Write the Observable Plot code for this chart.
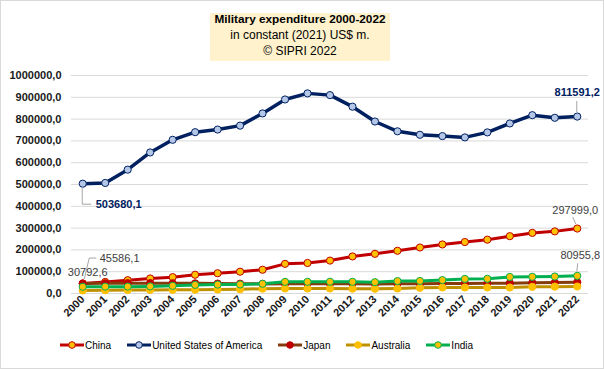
<!DOCTYPE html>
<html>
<head>
<meta charset="utf-8">
<script src="https://cdn.jsdelivr.net/npm/d3@7"></script>
<script src="https://cdn.jsdelivr.net/npm/@observablehq/plot@0.6"></script>
<style>
  html, body { margin: 0; padding: 0; background: #fff; }
  #chart { position: relative; width: 604px; height: 369px; box-sizing: border-box; border: 1px solid #d9d9d9; background: #fff; font-family: "Liberation Sans", Arial, sans-serif; overflow: hidden; }
  #plot { position: absolute; left: 0; top: 0; }
  #title { position: absolute; left: 209px; top: 12px; width: 180px; height: 48px; background: #fff2cc; text-align: center; color: #000; font-size: 12px; }
  #title .inner { position: relative; top: -2px; }
  #title div.l { line-height: 16px; }
  #title .b { font-weight: bold; font-size: 11.8px; }
  #legend { position: absolute; left: 59px; top: 337px; height: 14px; display: flex; align-items: center; font-size: 10px; color: #000; }
  #legend .item { display: flex; align-items: center; margin-right: 16px; }
  #legend svg { margin-right: 1px; }
</style>
</head>
<body>
<div id="chart">
  <div id="plot"></div>
  <div id="title"><div class="inner">
    <div class="l b">Military expenditure 2000-2022</div>
    <div class="l">in constant (2021) US$ m.</div>
    <div class="l">© SIPRI 2022</div>
  </div></div>
  <div id="legend"></div>
</div>
<script>
// ---- data ----
const years = [2000, 2001, 2002, 2003, 2004, 2005, 2006, 2007, 2008, 2009, 2010, 2011,
               2012, 2013, 2014, 2015, 2016, 2017, 2018, 2019, 2020, 2021, 2022];
const seriesNames = ["China", "United States of America", "Japan", "Australia", "India"];
const china = [45586.1, 53000, 61000, 69000, 75000, 86000, 93000, 100000, 109000, 136000, 140000, 151000,
               170000, 182000, 196000, 211000, 225000, 236000, 247000, 263000, 278000, 285000, 297999.0];
const usa = [503680.1, 507000, 568000, 647000, 705000, 740000, 752000, 770000, 826000, 890000, 918000, 910000,
             857000, 789000, 744000, 728000, 722000, 716000, 739000, 780000, 818000, 806000, 811591.2];
const japan = [46000, 47000, 47500, 47500, 47000, 46500, 45500, 45000, 44000, 44500, 44500, 45000,
               44500, 44000, 44500, 45000, 45500, 46000, 46500, 47500, 49000, 50000, 52000];
const australia = [14000, 15000, 16000, 16500, 17000, 17500, 18500, 19500, 22000, 23000, 23000, 23000,
                   22000, 21500, 23000, 26000, 27500, 27500, 27500, 27500, 30500, 31500, 32000];
const india = [30792.6, 31500, 31500, 32500, 35000, 39500, 41000, 41500, 44500, 53500, 53500, 54000,
               53500, 52000, 57000, 57500, 61500, 67000, 67500, 76000, 76500, 78000, 80955.8];
const yTicks = [0, 100000, 200000, 300000, 400000, 500000, 600000, 700000, 800000, 900000, 1000000];
const labelSeries = ["United States of America", "United States of America", "China", "China", "India", "India"];
const labelYears = [2000, 2022, 2000, 2022, 2000, 2022];

// ---- styles ----
const lineColors = ["#c00000", "#002060", "#843c0c", "#bf9000", "#00b050"];
const markerFills = ["#ffc000", "#b4c7e7", "#c00000", "#ffc000", "#ffc000"];
const markerStrokes = ["#c00000", "#002060", "#c00000", "#ffc000", "#00b050"];
const lineWidths = [3, 3.5, 3, 3, 3];
// label placement (pixel offsets from the labelled point)
const labelStyle = [
  {dx: 13, dy: 21, anchor: "start", fill: "#002060", weight: "bold", leader: [[0, 4], [0, 21], [9, 21]]},
  {dx: 0, dy: -24, anchor: "middle", fill: "#002060", weight: "bold", leader: [[0, -4], [0, -15]]},
  {dx: 17, dy: -25, anchor: "start", fill: "#404040", weight: "normal", leader: [[2, -4], [7, -25], [14, -25]]},
  {dx: -2, dy: -18, anchor: "middle", fill: "#404040", weight: "normal", leader: [[-1, -4], [-4, -11]]},
  {dx: 5, dy: -14, anchor: "middle", fill: "#404040", weight: "normal", leader: null},
  {dx: 3, dy: -20, anchor: "middle", fill: "#404040", weight: "normal", leader: [[0, -4], [1, -12]]}
];

const seriesValues = [china, usa, japan, australia, india];
const rows = [];
seriesNames.forEach((s, i) => years.forEach((y, j) => rows.push({series: s, year: y, value: seriesValues[i][j]})));
const fmt = d => d3.format(".1f")(d).replace(".", ",");

const labelRows = labelSeries.map((s, k) => rows.find(r => r.series === s && r.year === labelYears[k]));

const marks = [
  Plot.gridY(yTicks, {stroke: "#d9d9d9", strokeOpacity: 1}),
  Plot.axisY({ticks: yTicks, tickSize: 0, tickPadding: 10, tickFormat: fmt, fontSize: 11, fontWeight: "bold", color: "#1a1a1a", label: null}),
  Plot.axisX({ticks: years, tickSize: 0, tickPadding: 4, tickRotate: -45, tickFormat: d => String(d), fontSize: 11, fontWeight: "bold", color: "#1a1a1a", label: null})
];
seriesNames.forEach((s, i) => {
  const data = rows.filter(r => r.series === s);
  marks.push(Plot.line(data, {x: "year", y: "value", stroke: lineColors[i], strokeWidth: lineWidths[i], strokeLinejoin: "round", strokeLinecap: "round"}));
  marks.push(Plot.dot(data, {x: "year", y: "value", r: 3.6, fill: markerFills[i], stroke: markerStrokes[i], strokeWidth: 1}));
});
// leader lines drawn through the plot's scales
marks.push((index, scales) => {
  const ns = "http://www.w3.org/2000/svg";
  const g = document.createElementNS(ns, "g");
  labelRows.forEach((r, k) => {
    const L = labelStyle[k].leader;
    if (!L) return;
    const px = scales.x(r.year), py = scales.y(r.value);
    const p = document.createElementNS(ns, "path");
    p.setAttribute("d", "M" + L.map(([a, b]) => (px + a) + "," + (py + b)).join("L"));
    p.setAttribute("fill", "none");
    p.setAttribute("stroke", "#a6a6a6");
    p.setAttribute("stroke-width", "1");
    g.appendChild(p);
  });
  return g;
});
labelRows.forEach((r, k) => {
  const st = labelStyle[k];
  marks.push(Plot.text([r], {x: "year", y: "value", text: d => fmt(d.value), dx: st.dx, dy: st.dy,
    textAnchor: st.anchor, fill: st.fill, fontWeight: st.weight, fontSize: 11}));
});

const chart = Plot.plot({
  width: 602, height: 336,
  marginLeft: 70, marginRight: 15, marginTop: 74, marginBottom: 44,
  x: {type: "linear", domain: [1999.5, 2022.5]},
  y: {domain: [0, 1000000]},
  style: {fontFamily: "'Liberation Sans', Arial, sans-serif", background: "transparent", overflow: "visible"},
  marks
});
document.getElementById("plot").appendChild(chart);

// legend
const legend = document.getElementById("legend");
seriesNames.forEach((s, i) => {
  const item = document.createElement("div");
  item.className = "item";
  item.innerHTML = `<svg width="24" height="10"><line x1="0" y1="5" x2="24" y2="5" stroke="${lineColors[i]}" stroke-width="3"/>` +
    `<circle cx="12" cy="5" r="3.3" fill="${markerFills[i]}" stroke="${markerStrokes[i]}" stroke-width="1"/></svg><span>${s}</span>`;
  legend.appendChild(item);
});
</script>
</body>
</html>
